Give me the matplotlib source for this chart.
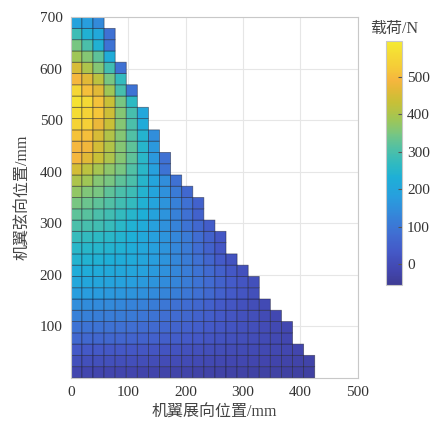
import numpy as np
import matplotlib
matplotlib.use("Agg")
import matplotlib.pyplot as plt
from matplotlib.colors import LinearSegmentedColormap

plt.rcParams['font.family'] = ['Liberation Serif', 'Noto Sans CJK SC']

# load per cell (N), rows listed from top (chord 700) down to bottom (chord 0)
rows_top_down = [
    [192, 179, 140],
    [283, 237, 211, 87],
    [348, 303, 237, 94],
    [387, 361, 322, 224],
    [452, 400, 361, 290, 87],
    [492, 465, 420, 348, 270],
    [550, 505, 465, 387, 296, 94],
    [576, 557, 511, 433, 348, 263],
    [563, 544, 518, 440, 361, 296, 205],
    [544, 537, 478, 433, 361, 303, 218],
    [511, 505, 452, 407, 361, 309, 244, 146],
    [492, 485, 446, 407, 361, 322, 250, 166],
    [492, 465, 433, 400, 361, 322, 257, 166, 87],
    [446, 420, 394, 368, 348, 309, 257, 185, 94],
    [400, 387, 361, 348, 322, 303, 250, 198, 146, 87],
    [374, 355, 348, 322, 303, 283, 244, 198, 153, 107, 68],
    [348, 335, 322, 309, 290, 270, 237, 198, 159, 120, 87, 55],
    [322, 316, 303, 290, 270, 250, 231, 192, 159, 120, 87, 55],
    [303, 296, 290, 277, 257, 237, 218, 185, 153, 127, 94, 68, 42],
    [277, 270, 263, 257, 244, 231, 211, 185, 159, 133, 107, 81, 55, 29],
    [257, 254, 250, 244, 237, 224, 205, 185, 159, 133, 107, 81, 55, 29],
    [244, 240, 237, 231, 224, 215, 200, 180, 158, 135, 110, 87, 63, 40, 18],
    [224, 222, 218, 213, 207, 200, 189, 173, 155, 135, 113, 92, 72, 52, 33, 15],
    [205, 203, 200, 196, 190, 183, 173, 160, 145, 128, 110, 92, 74, 56, 40, 24, 9],
    [179, 177, 174, 170, 165, 159, 151, 141, 129, 115, 100, 85, 69, 53, 38, 24, 10],
    [146, 145, 142, 138, 133, 127, 120, 111, 100, 89, 77, 64, 51, 38, 26, 14, 3, -7],
    [120, 119, 117, 114, 110, 105, 99, 92, 84, 75, 65, 55, 45, 35, 25, 15, 6, -3, -11],
    [94, 93, 92, 90, 87, 83, 78, 73, 67, 60, 53, 45, 37, 29, 21, 13, 6, -1, -8, -14],
    [68, 67, 66, 65, 63, 60, 56, 52, 47, 42, 37, 31, 25, 19, 13, 7, 1, -5, -10, -15],
    [35, 35, 34, 33, 32, 30, 28, 25, 22, 19, 15, 11, 7, 3, 0, -3, -6, -9, -12, -14, -16],
    [9, 9, 8, 8, 7, 6, 4, 2, 0, -2, -4, -6, -9, -11, -13, -15, -17, -19, -21, -23, -24, -25],
    [-17, -17, -18, -18, -19, -20, -21, -22, -23, -24, -25, -26, -27, -28, -29, -30, -31, -32, -33, -34, -35, -35],
]
span_max = 425   # mm
chord_max = 700  # mm
xticks = [0, 100, 200, 300, 400, 500]
yticks = [100, 200, 300, 400, 500, 600, 700]
cticks = [0, 100, 200, 300, 400, 500]
vmin, vmax = -56, 596

ny = len(rows_top_down)
nx = max(len(r) for r in rows_top_down)
Z = np.full((ny, nx), np.nan)
for j, r in enumerate(rows_top_down[::-1]):
    Z[j, :len(r)] = r
Z = np.ma.masked_invalid(Z)
xe = np.linspace(0, span_max, nx + 1)
ye = np.linspace(0, chord_max, ny + 1)

# parula as it looks after print conversion (duller blues)
par = [(0.00, (62, 60, 148)), (0.06, (66, 70, 175)), (0.14, (68, 90, 200)),
       (0.21, (64, 110, 210)), (0.29, (52, 135, 218)), (0.36, (40, 158, 222)),
       (0.44, (30, 175, 215)), (0.49, (45, 185, 195)), (0.56, (80, 192, 165)),
       (0.62, (120, 198, 130)), (0.68, (160, 198, 85)), (0.75, (200, 192, 55)),
       (0.80, (225, 185, 55)), (0.84, (245, 182, 62)), (0.90, (245, 205, 55)),
       (1.00, (245, 234, 50))]
cmap = LinearSegmentedColormap.from_list('parula', [(p, tuple(v / 255 for v in c)) for p, c in par])

fig = plt.figure(figsize=(4.4, 4.28), dpi=100)
ax = fig.add_axes([0.161, 0.117, 0.652, 0.843])
ax.set_axisbelow(True)
ax.grid(True, color='#e6e6e6', linewidth=0.8)
mesh = ax.pcolor(xe, ye, Z, cmap=cmap, vmin=vmin, vmax=vmax,
                 edgecolors=(0.08, 0.08, 0.15, 0.5), linewidth=0.6)
ax.set_xlim(0, 500)
ax.set_ylim(0, 700)
ax.set_xticks(xticks)
ax.set_yticks(yticks)
for s in ax.spines.values():
    s.set_color('#c8c8c8')
    s.set_linewidth(0.8)
ax.tick_params(length=0, labelsize=11, labelcolor='#333333', pad=6)
ax.set_xlabel('机翼展向位置/mm', fontsize=11.5, color='#444444', labelpad=4)
ax.set_ylabel('机翼弦向位置/mm', fontsize=11.5, color='#444444', labelpad=6)

cax = fig.add_axes([0.878, 0.334, 0.036, 0.570])
cb = fig.colorbar(mesh, cax=cax, ticks=cticks)
cb.outline.set_edgecolor('#c8c8c8')
cb.ax.tick_params(length=3, direction='in', labelsize=11, labelcolor='#333333', color='#555555')
cb.ax.set_title('载荷/N', fontsize=11.5, color='#444444', pad=6)

fig.savefig('out.png', dpi=100)
